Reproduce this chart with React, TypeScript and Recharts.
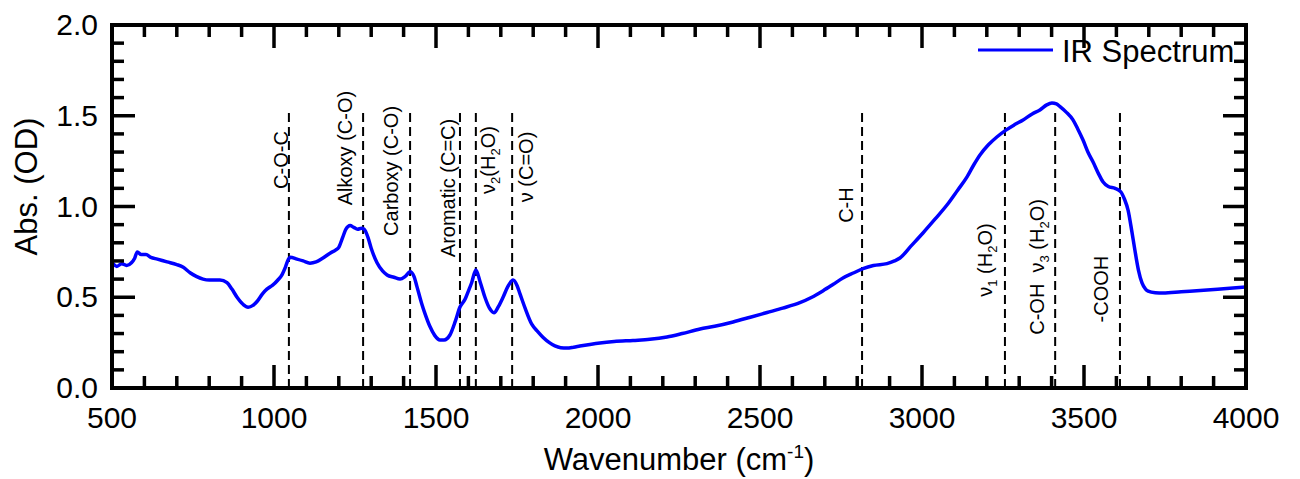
import React from 'react';
import { LineChart, Line, XAxis, YAxis, ReferenceLine, ReferenceDot, Legend } from 'recharts';

const FONT = "'Liberation Sans', Arial, Helvetica, sans-serif";

// IR spectrum (wavenumber in cm^-1, absorbance in OD)
const wavenumbers = [
  500, 515, 530, 545, 560, 570, 578, 590, 605, 620, 640, 670, 700, 720, 741, 760, 781, 800, 833, 855,
  870, 886, 905, 920, 935, 947, 965, 978, 995, 1012, 1025, 1034, 1042, 1050, 1071, 1090, 1111, 1130, 1150, 1173,
  1190, 1200, 1212, 1222, 1235, 1246, 1258, 1270, 1278, 1290, 1300, 1318, 1335, 1349, 1370, 1389, 1405, 1420, 1432, 1441,
  1455, 1466, 1481, 1496, 1512, 1525, 1543, 1560, 1574, 1590, 1599, 1610, 1623, 1637, 1651, 1665, 1679, 1693, 1707, 1722,
  1738, 1750, 1759, 1775, 1796, 1812, 1830, 1850, 1867, 1885, 1904, 1925, 1944, 1975, 2006, 2050, 2108, 2160, 2213, 2260,
  2315, 2360, 2417, 2470, 2522, 2570, 2623, 2660, 2694, 2725, 2756, 2790, 2818, 2850, 2892, 2915, 2932, 2965, 3003, 3040,
  3077, 3110, 3139, 3160, 3179, 3205, 3231, 3259, 3285, 3312, 3340, 3364, 3385, 3401, 3415, 3426, 3445, 3466, 3480, 3497,
  3512, 3528, 3545, 3559, 3575, 3596, 3614, 3625, 3636, 3647, 3657, 3668, 3679, 3690, 3698, 3720, 3744, 3800, 3880, 3950,
  4000,
];
const absorbance = [
  0.69, 0.67, 0.685, 0.675, 0.69, 0.715, 0.75, 0.735, 0.735, 0.72, 0.71, 0.695, 0.68, 0.665, 0.635, 0.615, 0.6, 0.595, 0.595, 0.58,
  0.545, 0.5, 0.46, 0.445, 0.455, 0.475, 0.52, 0.545, 0.565, 0.595, 0.625, 0.66, 0.7, 0.72, 0.71, 0.7, 0.688, 0.695, 0.715, 0.743,
  0.76, 0.775, 0.83, 0.875, 0.895, 0.885, 0.875, 0.88, 0.875, 0.83, 0.77, 0.69, 0.645, 0.623, 0.61, 0.6, 0.615, 0.64, 0.615, 0.56,
  0.47, 0.41, 0.34, 0.29, 0.265, 0.265, 0.292, 0.37, 0.446, 0.49, 0.53, 0.58, 0.65, 0.58, 0.5, 0.44, 0.415, 0.45, 0.5, 0.56,
  0.595, 0.565, 0.52, 0.44, 0.35, 0.315, 0.28, 0.25, 0.232, 0.222, 0.22, 0.225, 0.231, 0.24, 0.248, 0.256, 0.262, 0.268, 0.281, 0.3,
  0.325, 0.34, 0.364, 0.39, 0.416, 0.44, 0.47, 0.5, 0.535, 0.57, 0.606, 0.635, 0.658, 0.675, 0.685, 0.7, 0.716, 0.78, 0.854, 0.93,
  1.008, 1.09, 1.163, 1.23, 1.284, 1.34, 1.383, 1.421, 1.45, 1.477, 1.51, 1.532, 1.56, 1.57, 1.565, 1.55, 1.52, 1.477, 1.43, 1.366,
  1.3, 1.245, 1.18, 1.135, 1.11, 1.1, 1.08, 1.04, 0.98, 0.87, 0.76, 0.65, 0.579, 0.545, 0.534, 0.525, 0.523, 0.53, 0.54, 0.55,
  0.556,
];

const xMajorTicks = [500, 1000, 1500, 2000, 2500, 3000, 3500, 4000];
const xMinorTicks = [
  600, 700, 800, 900, 1100, 1200, 1300, 1400, 1600, 1700, 1800, 1900, 2100, 2200, 2300, 2400,
  2600, 2700, 2800, 2900, 3100, 3200, 3300, 3400, 3600, 3700, 3800, 3900,
];
const yMajorTicks = [0, 0.5, 1, 1.5, 2];
const yMinorTicks = [0.1, 0.2, 0.3, 0.4, 0.6, 0.7, 0.8, 0.9, 1.1, 1.2, 1.3, 1.4, 1.6, 1.7, 1.8, 1.9];

// band assignments (dashed markers)
const bandPositions = [1046, 1275, 1420, 1574, 1623, 1735, 2815, 3256, 3411, 3611];
const bandLineTop = 1.52;
// label text: parts starting with "_" are subscripts
const bandLabels = [
  ['C-O-C'],
  ['Alkoxy (C-O)'],
  ['Carboxy (C-O)'],
  ['Aromatic (C=C)'],
  ['ν', '_2', '(H', '_2', 'O)'],
  ['ν (C=O)'],
  ['C-H'],
  ['ν', '_1', ' (H', '_2', 'O)'],
  ['C-OH  ν', '_3', ' (H', '_2', 'O)'],
  ['-COOH'],
];
// label anchors (baseline wavenumber, centre absorbance)
const labelWavenumbers = [1043, 1241, 1383, 1559, 1682, 1799, 2787, 3216, 3376, 3574];
const labelAbs = [1.256, 1.322, 1.196, 1.102, 1.256, 1.218, 1.008, 0.705, 0.667, 0.545];

const data = wavenumbers.map((w, i) => ({ w, abs: absorbance[i] }));
const xTicks = [...xMajorTicks, ...xMinorTicks].sort((a, b) => a - b);
const yTicks = [...yMajorTicks, ...yMinorTicks].sort((a, b) => a - b);

const isMajorX = (v: number) => xMajorTicks.includes(v);
const isMajorY = (v: number) => yMajorTicks.some((m) => Math.abs(m - v) < 1e-9);

const MAJOR = 23;
const MINOR = 12;
const TICK_W = 3.5;

const XTickBottom = (props: any) => {
  const { x, y, payload } = props;
  const major = isMajorX(payload.value);
  return (
    <g>
      <line x1={x} x2={x} y1={y} y2={y - (major ? MAJOR : MINOR)} stroke="#000" strokeWidth={TICK_W} />
      {major && (
        <text x={x} y={y + 40} textAnchor="middle" fontSize={30} fontFamily={FONT} fill="#000">
          {payload.value}
        </text>
      )}
    </g>
  );
};

const XTickTop = (props: any) => {
  const { x, y, payload } = props;
  const major = isMajorX(payload.value);
  return <line x1={x} x2={x} y1={y} y2={y + (major ? MAJOR : MINOR)} stroke="#000" strokeWidth={TICK_W} />;
};

const YTickLeft = (props: any) => {
  const { x, y, payload } = props;
  const major = isMajorY(payload.value);
  return (
    <g>
      <line x1={x} x2={x + (major ? MAJOR : MINOR)} y1={y} y2={y} stroke="#000" strokeWidth={TICK_W} />
      {major && (
        <text x={x - 14} y={y + 10} textAnchor="end" fontSize={30} fontFamily={FONT} fill="#000">
          {Number(payload.value).toFixed(1)}
        </text>
      )}
    </g>
  );
};

const YTickRight = (props: any) => {
  const { x, y, payload } = props;
  const major = isMajorY(payload.value);
  return <line x1={x} x2={x - (major ? MAJOR : MINOR)} y1={y} y2={y} stroke="#000" strokeWidth={TICK_W} />;
};

const XTitle = (props: any) => {
  const vb = props.viewBox || { x: 112, y: 388, width: 1134, height: 91 };
  const cx = vb.x + vb.width / 2;
  const y = vb.y + 82;
  return (
    <text x={cx} y={y} textAnchor="middle" fontSize={31} fontFamily={FONT} fill="#000">
      <tspan>Wavenumber (cm</tspan>
      <tspan dy={-12} fontSize={19}>-1</tspan>
      <tspan dy={12}>)</tspan>
    </text>
  );
};

const YTitle = (props: any) => {
  const vb = props.viewBox || { x: 0, y: 25, width: 112, height: 363 };
  const x = vb.x + 37;
  const y = vb.y + vb.height / 2 - 20;
  return (
    <text x={x} y={y} transform={`rotate(-90 ${x} ${y})`} textAnchor="middle" fontSize={31} fontFamily={FONT} fill="#000">
      Abs. (OD)
    </text>
  );
};

const BandLabel = ({ viewBox, parts }: any) => {
  if (!viewBox) return null;
  const cx = viewBox.x + (viewBox.width || 0) / 2;
  const cy = viewBox.y + (viewBox.height || 0) / 2;
  let inSub = false;
  const spans = parts.map((p: string, i: number) => {
    const isSub = p.startsWith('_');
    const txt = isSub ? p.slice(1) : p;
    let dy = 0;
    if (isSub && !inSub) dy = 5;
    else if (!isSub && inSub) dy = -5;
    inSub = isSub;
    return (
      <tspan key={i} dy={dy} fontSize={isSub ? 13 : 20}>
        {txt}
      </tspan>
    );
  });
  return (
    <text
      x={cx}
      y={cy}
      transform={`rotate(-90 ${cx} ${cy})`}
      textAnchor="middle"
      fontSize={20}
      fontFamily={FONT}
      fill="#000"
      style={{ whiteSpace: 'pre' }}
    >
      {spans}
    </text>
  );
};

const LegendContent = (props: any) => {
  const item = props.payload && props.payload.find((p: any) => p.value === 'IR Spectrum');
  return (
    <svg width={275} height={45} style={{ display: 'block' }}>
      <line x1={3} x2={78} y1={22} y2={22} stroke={(item && item.color) || '#0000FF'} strokeWidth={3} />
      <text x={87} y={34} fontSize={31} fontFamily={FONT} fill="#000">
        {(item && item.value) || 'IR Spectrum'}
      </text>
    </svg>
  );
};

const axisLine = { stroke: '#000', strokeWidth: 4, strokeLinecap: 'square' as const };

export default function App() {
  return (
    <div style={{ position: 'absolute', left: 0, top: 0, width: 1300, height: 479, background: '#fff' }}>
      <LineChart width={1300} height={479} data={data} margin={{ top: 24, right: 53, bottom: 0, left: 0 }}>
        <XAxis
          dataKey="w"
          type="number"
          domain={[500, 4000]}
          allowDataOverflow
          ticks={xTicks}
          interval={0}
          height={91}
          tickSize={0}
          tickMargin={0}
          tickLine={false}
          axisLine={axisLine}
          tick={<XTickBottom />}
          label={{ content: <XTitle /> }}
        />
        <XAxis
          xAxisId="top"
          orientation="top"
          dataKey="w"
          type="number"
          domain={[500, 4000]}
          allowDataOverflow
          ticks={xTicks}
          interval={0}
          height={1}
          tickSize={0}
          tickMargin={0}
          tickLine={false}
          axisLine={axisLine}
          tick={<XTickTop />}
        />
        <YAxis
          type="number"
          domain={[0, 2]}
          allowDataOverflow
          ticks={yTicks}
          interval={0}
          width={112}
          tickSize={0}
          tickMargin={0}
          tickLine={false}
          axisLine={axisLine}
          tick={<YTickLeft />}
          label={{ content: <YTitle /> }}
        />
        <YAxis
          yAxisId="right"
          orientation="right"
          type="number"
          domain={[0, 2]}
          allowDataOverflow
          ticks={yTicks}
          interval={0}
          width={1}
          tickSize={0}
          tickMargin={0}
          tickLine={false}
          axisLine={axisLine}
          tick={<YTickRight />}
        />
        {bandPositions.map((b) => (
          <ReferenceLine
            key={`band-${b}`}
            segment={[
              { x: b, y: 0 },
              { x: b, y: bandLineTop },
            ]}
            stroke="#000"
            strokeWidth={2}
            strokeDasharray="9 5"
          />
        ))}
        {bandLabels.map((parts, i) => (
          <ReferenceDot
            key={`lab-${i}`}
            x={labelWavenumbers[i]}
            y={labelAbs[i]}
            r={1}
            fill="none"
            stroke="none"
            label={(p: any) => <BandLabel viewBox={p.viewBox} parts={parts} />}
          />
        ))}
        <Line
          type="monotone"
          dataKey="abs"
          name="IR Spectrum"
          stroke="#0000FF"
          strokeWidth={3.5}
          dot={false}
          isAnimationActive={false}
        />
        <Line
          xAxisId="top"
          yAxisId="right"
          dataKey="abs"
          name="frame"
          stroke="none"
          strokeWidth={0}
          dot={false}
          activeDot={false}
          legendType="none"
          isAnimationActive={false}
        />
        <Legend
          layout="vertical"
          align="center"
          verticalAlign="middle"
          wrapperStyle={{ left: 975, top: 28, width: 280, height: 45 }}
          content={<LegendContent />}
        />
      </LineChart>
    </div>
  );
}
